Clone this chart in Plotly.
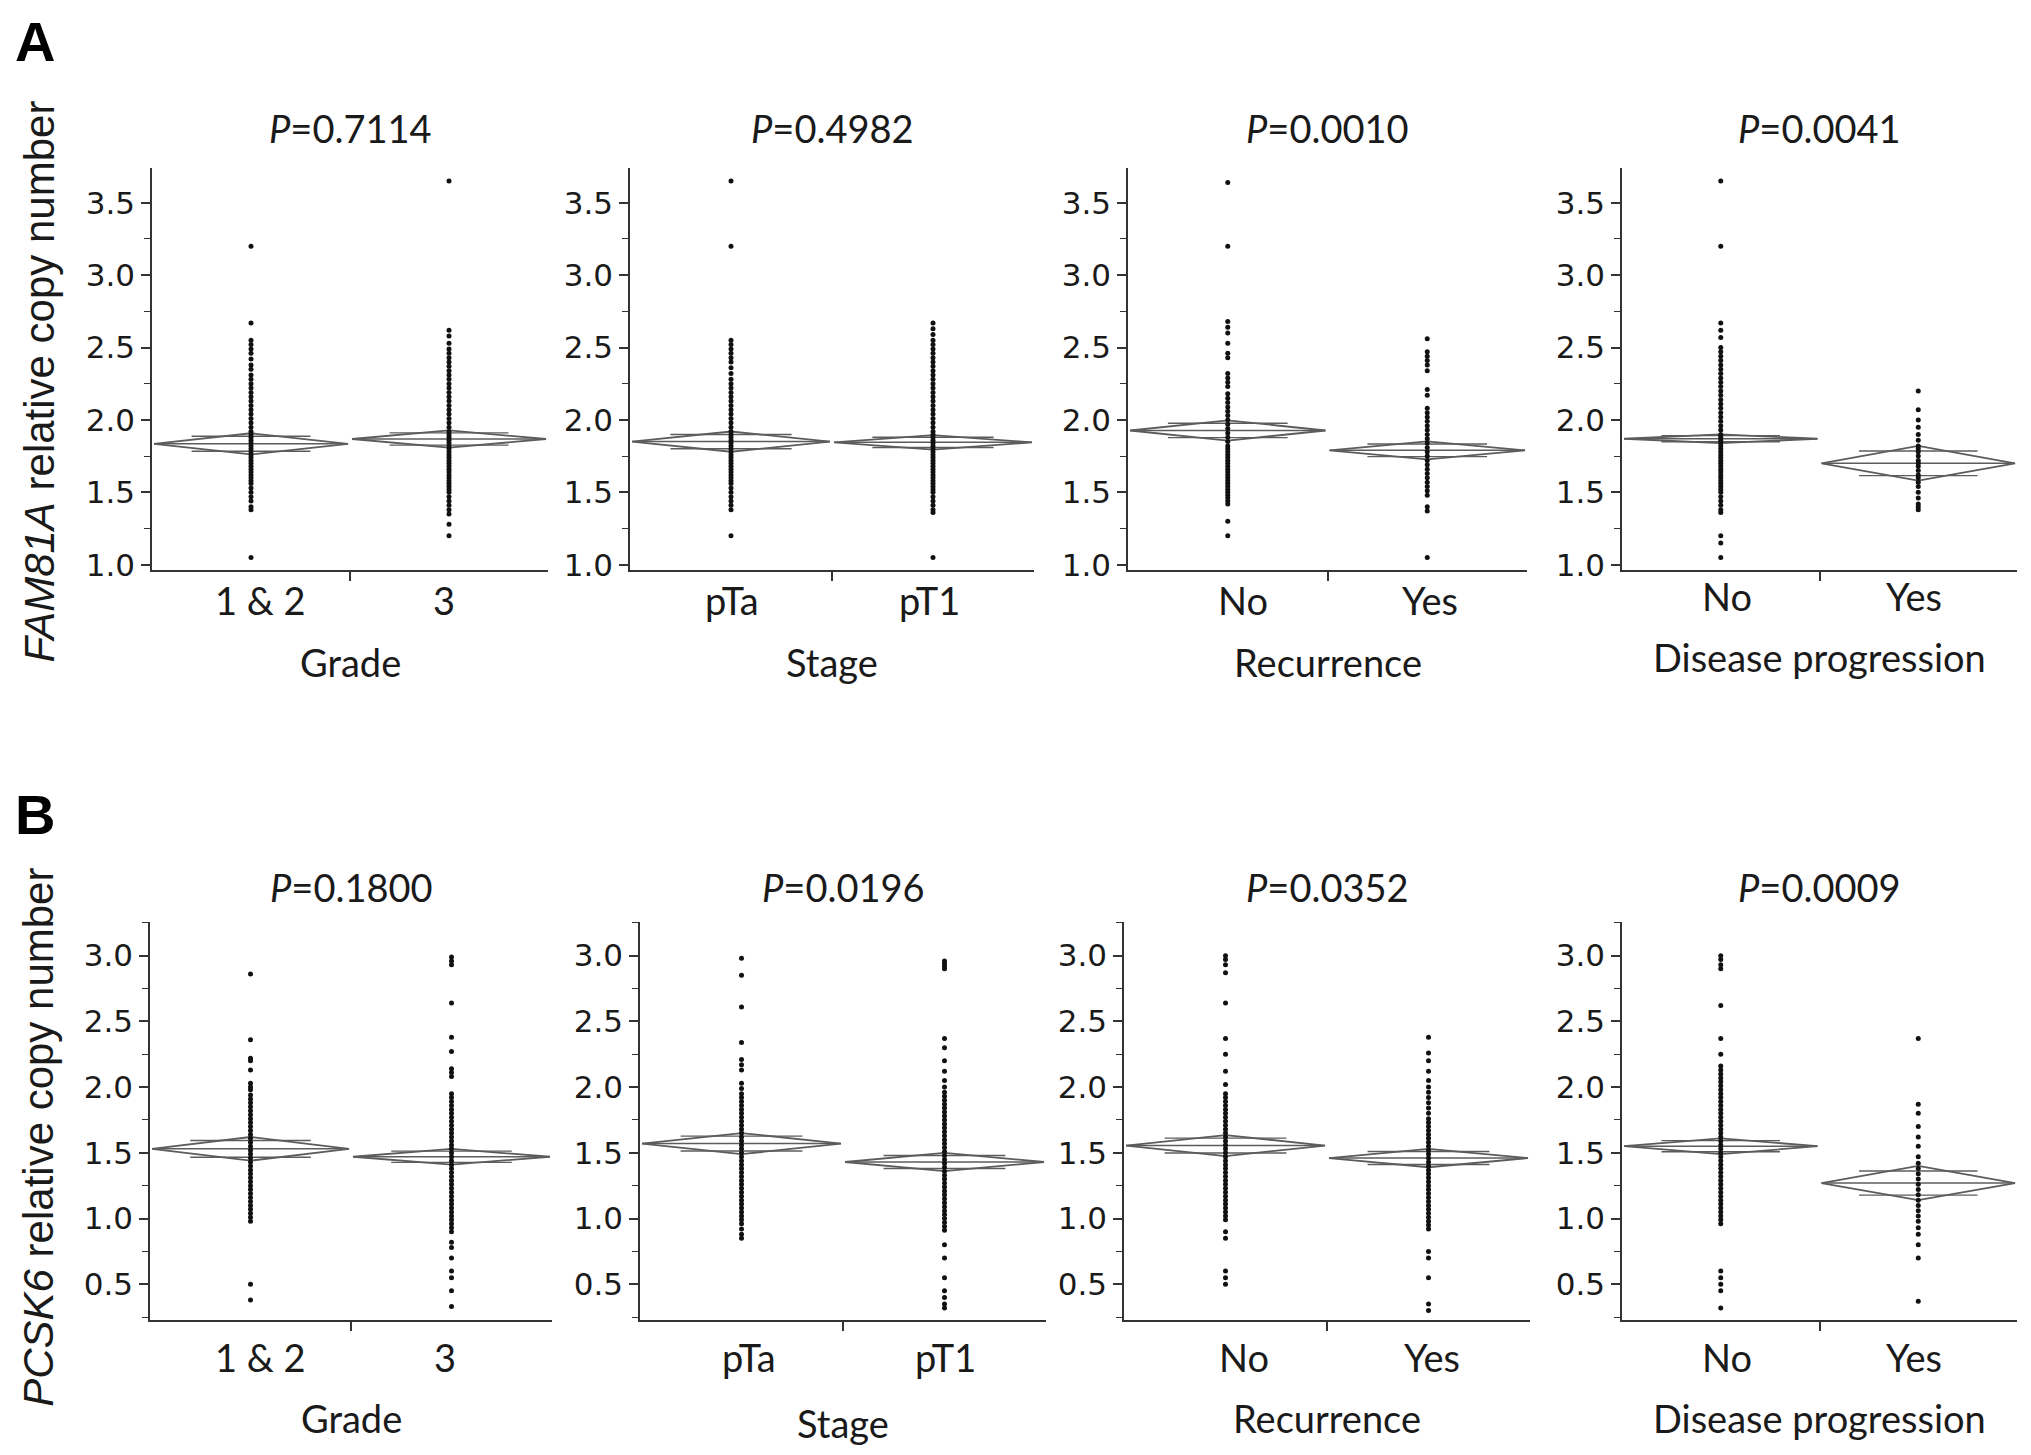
import math
import plotly.graph_objects as go

SCREEN_W, SCREEN_H = 2031, 1455
OFF = 8  # default page body margin
W, H = SCREEN_W - 2 * OFF, SCREEN_H - 2 * OFF
VSCALE = 1.011  # empirical vertical calibration

# ---------------- data ----------------
cats_grade = ["1 & 2", "3"]
cats_stage = ["pTa", "pT1"]
cats_yesno = ["No", "Yes"]
x_titles = ["Grade", "Stage", "Recurrence", "Disease progression"]

p_A = ["0.7114", "0.4982", "0.0010", "0.0041"]
p_B = ["0.1800", "0.0196", "0.0352", "0.0009"]

# FAM81A (panel A)
A_grade_12 = [3.20, 2.67, 2.55, 2.52, 2.49, 2.46, 2.42, 2.38, 2.35, 2.31, 2.28, 2.25, 2.22, 2.19, 2.16, 2.13, 2.10,
              2.07, 2.04, 2.01, 1.98, 1.95, 1.92, 1.90, 1.88, 1.86, 1.84, 1.82, 1.80, 1.78, 1.76, 1.74, 1.72, 1.70,
              1.68, 1.66, 1.64, 1.62, 1.60, 1.58, 1.56, 1.53, 1.50, 1.47, 1.44, 1.40, 1.38, 1.05]
A_grade_3 = [3.65, 2.62, 2.58, 2.53, 2.49, 2.46, 2.43, 2.40, 2.37, 2.34, 2.31, 2.28, 2.25, 2.22, 2.19, 2.16, 2.13,
             2.10, 2.07, 2.04, 2.01, 1.98, 1.95, 1.92, 1.90, 1.88, 1.86, 1.84, 1.82, 1.80, 1.78, 1.76, 1.74, 1.72,
             1.70, 1.68, 1.66, 1.64, 1.62, 1.60, 1.58, 1.56, 1.54, 1.52, 1.50, 1.47, 1.44, 1.41, 1.38, 1.35, 1.28, 1.20]
A_stage_pTa = [3.65, 3.20, 2.55, 2.52, 2.49, 2.46, 2.43, 2.40, 2.36, 2.32, 2.28, 2.25, 2.22, 2.19, 2.16, 2.13, 2.10,
               2.07, 2.04, 2.01, 1.98, 1.95, 1.92, 1.90, 1.88, 1.86, 1.84, 1.82, 1.80, 1.78, 1.76, 1.74, 1.72, 1.70,
               1.68, 1.66, 1.64, 1.62, 1.60, 1.58, 1.56, 1.53, 1.50, 1.47, 1.44, 1.41, 1.38, 1.20]
A_stage_pT1 = [2.67, 2.63, 2.59, 2.55, 2.52, 2.49, 2.46, 2.43, 2.40, 2.37, 2.34, 2.31, 2.28, 2.25, 2.22, 2.19, 2.16,
               2.13, 2.10, 2.07, 2.04, 2.01, 1.98, 1.95, 1.92, 1.90, 1.88, 1.86, 1.84, 1.82, 1.80, 1.78, 1.76, 1.74,
               1.72, 1.70, 1.68, 1.66, 1.64, 1.62, 1.60, 1.58, 1.56, 1.54, 1.52, 1.50, 1.47, 1.44, 1.41, 1.38, 1.36, 1.05]
A_rec_no = [3.64, 3.20, 2.68, 2.64, 2.60, 2.53, 2.46, 2.43, 2.32, 2.29, 2.26, 2.23, 2.18, 2.15, 2.12, 2.09, 2.06,
            2.03, 2.00, 1.97, 1.94, 1.91, 1.88, 1.85, 1.82, 1.80, 1.78, 1.76, 1.74, 1.72, 1.70, 1.68, 1.66, 1.64,
            1.62, 1.60, 1.58, 1.56, 1.54, 1.52, 1.50, 1.48, 1.46, 1.44, 1.42, 1.30, 1.20]
A_rec_yes = [2.56, 2.47, 2.44, 2.41, 2.38, 2.34, 2.21, 2.17, 2.08, 2.05, 2.02, 1.99, 1.96, 1.93, 1.90, 1.87, 1.84,
             1.81, 1.78, 1.75, 1.72, 1.69, 1.66, 1.63, 1.60, 1.57, 1.54, 1.51, 1.48, 1.40, 1.37, 1.05]
A_prog_no = [3.65, 3.20, 2.67, 2.62, 2.57, 2.50, 2.47, 2.44, 2.41, 2.38, 2.35, 2.32, 2.29, 2.26, 2.23, 2.20, 2.17,
             2.14, 2.11, 2.08, 2.05, 2.02, 1.99, 1.96, 1.93, 1.90, 1.88, 1.86, 1.84, 1.82, 1.80, 1.78, 1.76, 1.74,
             1.72, 1.70, 1.68, 1.66, 1.64, 1.62, 1.60, 1.58, 1.56, 1.54, 1.52, 1.50, 1.47, 1.44, 1.41, 1.38, 1.36,
             1.20, 1.15, 1.05]
A_prog_yes = [2.20, 2.07, 2.00, 1.95, 1.90, 1.86, 1.82, 1.80, 1.78, 1.75, 1.72, 1.70, 1.68, 1.65, 1.62, 1.60, 1.57,
              1.54, 1.50, 1.46, 1.42, 1.40, 1.38]

# PCSK6 (panel B)
B_grade_12 = [2.86, 2.36, 2.22, 2.20, 2.13, 2.03, 2.00, 1.98, 1.94, 1.91, 1.88, 1.85, 1.82, 1.79, 1.76, 1.73, 1.70,
              1.67, 1.64, 1.61, 1.58, 1.55, 1.52, 1.49, 1.46, 1.43, 1.40, 1.37, 1.34, 1.31, 1.28, 1.25, 1.22, 1.19,
              1.16, 1.13, 1.10, 1.07, 1.04, 1.01, 0.98, 0.50, 0.38]
B_grade_3 = [2.99, 2.96, 2.93, 2.64, 2.38, 2.27, 2.14, 2.11, 2.08, 1.95, 1.92, 1.89, 1.86, 1.83, 1.80, 1.77, 1.74,
             1.71, 1.68, 1.65, 1.62, 1.59, 1.56, 1.53, 1.50, 1.47, 1.44, 1.41, 1.38, 1.35, 1.32, 1.29, 1.26, 1.23,
             1.20, 1.17, 1.14, 1.11, 1.08, 1.05, 1.02, 0.99, 0.96, 0.93, 0.90, 0.82, 0.78, 0.70, 0.60, 0.55, 0.45, 0.33]
B_stage_pTa = [2.98, 2.85, 2.61, 2.34, 2.21, 2.17, 2.13, 2.03, 1.99, 1.95, 1.92, 1.89, 1.86, 1.83, 1.80, 1.77, 1.74,
               1.71, 1.68, 1.65, 1.62, 1.59, 1.56, 1.53, 1.50, 1.47, 1.44, 1.41, 1.38, 1.35, 1.32, 1.29, 1.26, 1.23,
               1.20, 1.17, 1.14, 1.11, 1.08, 1.05, 1.02, 0.99, 0.96, 0.92, 0.88, 0.85]
B_stage_pT1 = [2.96, 2.94, 2.92, 2.90, 2.37, 2.30, 2.20, 2.12, 2.05, 2.00, 1.96, 1.93, 1.90, 1.87, 1.84, 1.81, 1.78,
               1.75, 1.72, 1.69, 1.66, 1.63, 1.60, 1.57, 1.54, 1.51, 1.48, 1.45, 1.42, 1.39, 1.36, 1.33, 1.30, 1.27,
               1.24, 1.21, 1.18, 1.15, 1.12, 1.09, 1.06, 1.03, 1.00, 0.97, 0.94, 0.91, 0.80, 0.70, 0.55, 0.45, 0.40,
               0.35, 0.32]
B_rec_no = [3.00, 2.97, 2.93, 2.87, 2.64, 2.37, 2.25, 2.12, 2.02, 1.95, 1.92, 1.89, 1.86, 1.83, 1.80, 1.77, 1.74,
            1.71, 1.68, 1.65, 1.62, 1.59, 1.56, 1.53, 1.50, 1.47, 1.44, 1.41, 1.38, 1.35, 1.32, 1.29, 1.26, 1.23,
            1.20, 1.17, 1.14, 1.11, 1.08, 1.05, 1.02, 0.99, 0.90, 0.85, 0.60, 0.55, 0.50]
B_rec_yes = [2.38, 2.26, 2.20, 2.12, 2.05, 2.00, 1.96, 1.92, 1.88, 1.84, 1.80, 1.76, 1.73, 1.70, 1.67, 1.64, 1.61,
             1.58, 1.55, 1.52, 1.49, 1.46, 1.43, 1.40, 1.37, 1.34, 1.31, 1.28, 1.25, 1.22, 1.19, 1.16, 1.13, 1.10,
             1.07, 1.04, 1.01, 0.98, 0.95, 0.92, 0.75, 0.70, 0.55, 0.35, 0.30]
B_prog_no = [3.00, 2.97, 2.93, 2.90, 2.62, 2.37, 2.25, 2.16, 2.13, 2.10, 2.07, 2.04, 2.01, 1.98, 1.95, 1.92, 1.89,
             1.86, 1.83, 1.80, 1.77, 1.74, 1.71, 1.68, 1.65, 1.62, 1.59, 1.56, 1.53, 1.50, 1.47, 1.44, 1.41, 1.38,
             1.35, 1.32, 1.29, 1.26, 1.23, 1.20, 1.17, 1.14, 1.11, 1.08, 1.05, 1.02, 0.99, 0.96, 0.60, 0.55, 0.50,
             0.45, 0.32]
B_prog_yes = [2.37, 1.87, 1.80, 1.70, 1.62, 1.55, 1.47, 1.42, 1.38, 1.34, 1.30, 1.26, 1.22, 1.18, 1.14, 1.10, 1.06,
              1.02, 0.98, 0.93, 0.88, 0.80, 0.70, 0.37]

# means diamonds: group mean and 95% CI half-height
A_means = [[1.835, 1.868], [1.850, 1.845], [1.927, 1.790], [1.870, 1.700]]
A_ci = [[0.073, 0.060], [0.070, 0.050], [0.070, 0.062], [0.030, 0.120]]
B_means = [[1.530, 1.470], [1.570, 1.430], [1.555, 1.460], [1.550, 1.270]]
B_ci = [[0.090, 0.060], [0.080, 0.070], [0.080, 0.070], [0.060, 0.130]]

A_groups = [[A_grade_12, A_grade_3], [A_stage_pTa, A_stage_pT1], [A_rec_no, A_rec_yes], [A_prog_no, A_prog_yes]]
B_groups = [[B_grade_12, B_grade_3], [B_stage_pTa, B_stage_pT1], [B_rec_no, B_rec_yes], [B_prog_no, B_prog_yes]]
cat_sets = [cats_grade, cats_stage, cats_yesno, cats_yesno]

# ---------------- layout geometry (screen pixels) ----------------
A_xdom = [(152, 548), (630, 1034), (1128, 1527), (1622, 2017)]
B_xdom = [(150, 552), (640, 1046), (1124, 1530), (1622, 2017)]
A_ydom = (169, 570)
B_ydom = (921.7, 1318.6)
A_yrange = [0.965, 3.74]
B_yrange = [0.23, 3.255]

A_ptitle_y, B_ptitle_y = 129.5, 887
A_cat_y = [600, 600, 600, 596]
B_cat_y = [1356, 1356, 1356, 1356]
A_xt_y = [662, 662, 662, 657]
B_xt_y = [1417, 1422, 1417, 1417]
# horizontal nudges (px) of the category labels relative to the point columns
A_cat_dx = [(9, -5), (1, -4), (15, 3), (6, -4)]
B_cat_dx = [(10, -7), (7, 1), (18, 3), (6, -4)]

TXT = "#1a1a1a"
LINE = "#333333"
DIA = "#5c5c5c"
SANS = "Liberation Sans, Arial, sans-serif"
WIDE = "DejaVu Sans, Verdana, sans-serif"
CAL = "Lato, Open Sans, sans-serif"

fig = go.Figure()
layout = dict(width=W, height=H, margin=dict(l=0, r=0, t=0, b=0),
              paper_bgcolor="white", plot_bgcolor="white", showlegend=False)
annotations = []


def px2fx(px):
    return (px - OFF) / W


def py2fy(py):
    pyc = py * VSCALE - 1.4
    return 1 - (pyc - OFF) / H


idx = 0
rows = [
    (A_xdom, A_ydom, A_yrange, A_groups, A_means, A_ci, p_A, A_ptitle_y, A_cat_y, A_xt_y, A_cat_dx),
    (B_xdom, B_ydom, B_yrange, B_groups, B_means, B_ci, p_B, B_ptitle_y, B_cat_y, B_xt_y, B_cat_dx),
]
for row, (xdoms, ydom, yr, groups, means, cis, pvals, pty, caty, xty, catdx) in enumerate(rows):
    for k in range(4):
        idx += 1
        xa = "x" if idx == 1 else f"x{idx}"
        ya = "y" if idx == 1 else f"y{idx}"
        xkey = "xaxis" if idx == 1 else f"xaxis{idx}"
        ykey = "yaxis" if idx == 1 else f"yaxis{idx}"
        layout[xkey] = dict(
            domain=[px2fx(xdoms[k][0]), px2fx(xdoms[k][1])], anchor=ya, range=[0, 2],
            showline=True, linecolor=LINE, linewidth=1.6, showgrid=False, zeroline=False,
            tickmode="array", tickvals=[0.5, 1.5], ticks="", showticklabels=False,
            minor=dict(tickmode="array", tickvals=[1.0], ticks="outside", ticklen=9,
                       tickwidth=1.6, tickcolor=LINE),
            fixedrange=True)
        layout[ykey] = dict(
            domain=[py2fy(ydom[1]), py2fy(ydom[0])], anchor=xa, range=yr,
            showline=True, linecolor=LINE, linewidth=1.6, showgrid=False, zeroline=False,
            tickmode="linear", tick0=0, dtick=0.5, tickformat=".1f",
            ticks="outside", ticklen=9, tickwidth=1.6, tickcolor=LINE,
            tickfont=dict(family=WIDE, size=31, color=TXT),
            minor=dict(tickmode="linear", tick0=0.25, dtick=0.5, ticks="outside", ticklen=6,
                       tickwidth=1.4, tickcolor=LINE),
            fixedrange=True)

        # means diamonds
        for g in range(2):
            m = means[k][g]
            c = cis[k][g]
            left, right = g + 0.01, g + 0.99
            mid = g + 0.5
            fig.add_trace(go.Scatter(x=[left, mid, right, mid, left], y=[m, m + c, m, m - c, m],
                                     xaxis=xa, yaxis=ya, mode="lines",
                                     line=dict(color=DIA, width=1.8), hoverinfo="skip"))
            fig.add_trace(go.Scatter(x=[left, right], y=[m, m], xaxis=xa, yaxis=ya, mode="lines",
                                     line=dict(color=DIA, width=1.5), hoverinfo="skip"))
            o = c / math.sqrt(2)
            for s in (1, -1):
                fig.add_trace(go.Scatter(x=[mid - 0.3, mid + 0.3], y=[m + s * o, m + s * o],
                                         xaxis=xa, yaxis=ya, mode="lines",
                                         line=dict(color=DIA, width=1.4), hoverinfo="skip"))
        # points
        for g in range(2):
            vals = groups[k][g]
            fig.add_trace(go.Scatter(x=[g + 0.5] * len(vals), y=vals, xaxis=xa, yaxis=ya, mode="markers",
                                     marker=dict(color="#111111", size=5, line=dict(width=0)),
                                     hoverinfo="y"))
            annotations.append(dict(text=cat_sets[k][g], x=g + 0.5, y=py2fy(caty[k]), xshift=catdx[k][g],
                                    xref=xa, yref="paper", xanchor="center", yanchor="middle",
                                    showarrow=False, font=dict(family=CAL, size=38, color=TXT)))

        cx = (xdoms[k][0] + xdoms[k][1]) / 2
        annotations.append(dict(text=f"<i>P</i>={pvals[k]}", x=px2fx(cx), y=py2fy(pty),
                                xref="paper", yref="paper", xanchor="center", yanchor="middle",
                                showarrow=False, font=dict(family=CAL, size=38, color=TXT)))
        annotations.append(dict(text=x_titles[k], x=px2fx(cx), y=py2fy(xty[k]),
                                xref="paper", yref="paper", xanchor="center", yanchor="middle",
                                showarrow=False, font=dict(family=CAL, size=38, color=TXT)))

# panel letters
annotations.append(dict(text="<b>A</b>", x=px2fx(13), y=1.0, xref="paper", yref="paper",
                        xanchor="left", yanchor="top", showarrow=False,
                        font=dict(family=SANS, size=56, color="#000")))
annotations.append(dict(text="<b>B</b>", x=px2fx(13), y=py2fy(781), xref="paper", yref="paper",
                        xanchor="left", yanchor="top", showarrow=False,
                        font=dict(family=SANS, size=56, color="#000")))
# y titles
annotations.append(dict(text="<i>FAM81A</i> relative copy number", x=px2fx(39), y=py2fy(382),
                        xref="paper", yref="paper", xanchor="center", yanchor="middle", textangle=-90,
                        showarrow=False, font=dict(family=SANS, size=42, color=TXT)))
annotations.append(dict(text="<i>PCSK6</i> relative copy number", x=px2fx(39), y=py2fy(1137),
                        xref="paper", yref="paper", xanchor="center", yanchor="middle", textangle=-90,
                        showarrow=False, font=dict(family=SANS, size=42, color=TXT)))

layout["annotations"] = annotations
fig.update_layout(**layout)
fig.write_html("out.html")
